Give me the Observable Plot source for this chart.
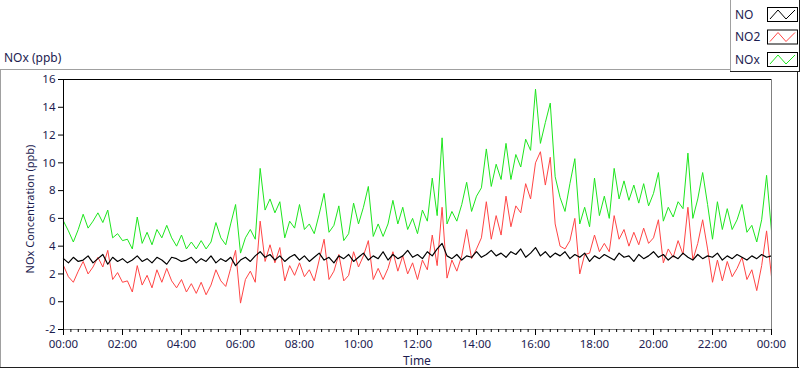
<!DOCTYPE html>
<html><head><meta charset="utf-8">
<script src="https://cdn.jsdelivr.net/npm/d3@7"></script>
<script src="https://cdn.jsdelivr.net/npm/@observablehq/plot@0.6"></script>
<style>html,body{margin:0;padding:0;background:#fff;}</style>
</head><body><div id="chart"></div>
<script>
// ---- data (10-minute readings, 00:00 -> 24:00) ----
const seriesNames = ["NO", "NO2", "NOx"];
const seriesColors = ["#000000", "#ff4545", "#1ee61e"];
const stepMinutes = 10;
const yTicks = [-2, 0, 2, 4, 6, 8, 10, 12, 14, 16];
const xLabelHours = [0, 2, 4, 6, 8, 10, 12, 14, 16, 18, 20, 22, 24];

const NO = [
  3.1, 2.8, 3.2, 2.9, 3.0, 3.3, 2.8, 3.1, 3.4, 2.7,
  3.2, 2.9, 3.1, 2.8, 3.0, 3.3, 2.9, 3.1, 2.8, 3.2,
  3.0, 2.7, 3.2, 3.1, 2.9, 3.0, 3.2, 2.8, 3.1, 2.9,
  3.3, 2.8, 3.1, 2.9, 3.2, 2.6, 3.0, 3.2, 2.9, 3.3,
  3.6, 3.2, 3.4, 3.0, 3.3, 2.9, 3.2, 3.4, 3.0, 3.3,
  2.9, 3.2, 3.5, 3.0, 3.2, 2.8, 3.3, 3.1, 3.4, 2.9,
  3.2, 3.5, 3.0, 3.3, 3.1, 3.6, 3.0, 3.4, 3.1, 3.3,
  3.7, 3.2, 3.4, 3.1, 3.6, 3.3, 3.8, 4.2, 3.3, 3.1,
  3.4, 3.0, 3.3, 3.2, 3.6, 3.2, 3.4, 3.7, 3.3, 3.5,
  3.2, 3.6, 3.4, 3.8, 3.2, 3.5, 3.9, 3.3, 3.6, 3.2,
  3.5, 3.3, 3.6, 3.1, 3.4, 3.2, 3.5, 2.9, 3.3, 3.1,
  3.4, 3.2, 3.0, 3.5, 3.2, 3.3, 2.9, 3.4, 3.1, 3.3,
  3.6, 3.2, 3.4, 3.0, 3.3, 3.1, 3.5, 3.2, 3.0, 3.4,
  3.1, 3.3, 3.2, 3.5, 3.0, 3.3, 3.1, 3.4, 3.2, 3.0,
  3.3, 3.1, 3.4, 3.2, 3.3
];
const NO2 = [
  2.6, 1.8, 1.4, 2.2, 2.9, 2.0, 2.5, 3.2, 2.5, 3.7,
  1.6, 2.1, 1.4, 1.5, 0.7, 2.6, 1.2, 1.9, 1.0, 2.3,
  1.4, 2.4, 1.5, 1.0, 1.6, 0.7, 1.3, 0.6, 1.4, 0.5,
  1.2, 2.3, 1.5, 1.1, 2.4, 3.7, -0.1, 1.6, 2.2, 1.4,
  5.8, 2.9, 4.1, 2.8, 3.9, 1.5, 2.6, 1.9, 2.8, 1.8,
  2.3, 1.5, 3.0, 4.5, 1.6, 2.2, 3.4, 1.5, 1.9, 3.6,
  2.5, 3.3, 4.4, 1.6, 2.4, 1.6, 2.4, 3.6, 2.2, 3.3,
  2.0, 2.8, 1.6, 3.0, 2.3, 4.8, 2.6, 6.8, 1.7, 3.0,
  2.2, 3.3, 5.2, 3.1, 3.8, 4.6, 7.2, 4.5, 6.2, 4.8,
  7.6, 5.4, 6.9, 6.4, 8.5, 7.4, 10.0, 10.8, 8.4, 10.4,
  5.6, 4.0, 3.8, 4.4, 6.0, 2.0, 3.4, 3.5, 4.8, 3.6,
  4.2, 3.6, 6.2, 4.5, 5.2, 4.0, 5.0, 4.1, 5.3, 4.2,
  4.6, 5.9, 2.8, 3.8, 3.2, 4.4, 3.4, 6.8, 3.0, 4.2,
  5.9, 3.8, 1.4, 3.0, 1.5, 2.9, 1.8, 2.4, 3.2, 1.6,
  2.3, 0.8, 2.6, 5.1, 1.8
];
const NOx = [
  5.8, 5.1, 4.3, 5.2, 6.3, 5.3, 5.8, 6.4, 5.7, 6.6,
  4.6, 4.9, 4.4, 4.5, 3.8, 6.1, 4.2, 5.0, 4.1, 5.2,
  4.6, 5.5, 4.6, 4.0, 4.8, 3.8, 4.3, 3.8, 4.4, 3.8,
  4.3, 5.7, 4.6, 4.1, 5.6, 7.0, 3.5, 4.6, 5.2, 4.5,
  9.6, 6.6, 7.4, 6.4, 7.2, 4.6, 5.8, 5.3, 7.0, 5.2,
  5.6, 4.9, 6.3, 7.8, 5.0, 5.5, 6.9, 4.4, 4.9, 7.1,
  5.6, 6.8, 8.3, 4.7, 5.6, 4.7, 5.6, 7.3, 5.6, 6.8,
  5.2, 6.0, 4.9, 6.6, 5.8, 8.9, 6.2, 11.8, 5.6, 6.5,
  5.8, 7.0, 8.6, 6.5, 7.6, 8.2, 11.0, 8.3, 9.9, 8.8,
  11.4, 8.8, 10.6, 9.7, 11.7, 10.9, 15.3, 11.4, 12.9, 14.3,
  9.0, 7.5, 6.5, 8.5, 10.3, 5.6, 6.8, 5.4, 8.9, 6.2,
  7.6, 6.0, 9.6, 7.4, 8.7, 7.3, 8.4, 7.1, 8.5, 6.9,
  7.8, 9.3, 5.8, 6.8, 6.1, 7.2, 6.7, 10.7, 6.0, 7.4,
  9.3, 7.0, 4.5, 7.2, 5.2, 6.7, 5.2, 5.9, 7.0, 5.0,
  5.5, 4.3, 5.9, 9.1, 5.1
];

// ---- build ----
const font = "'Noto Sans', 'Open Sans', sans-serif";
const textColor = "#1c1c50";
const t0 = Date.UTC(2000, 0, 1);
const hour = 3600000;
const toRows = arr => arr.map((v, i) => ({t: new Date(t0 + i * stepMinutes * 60000), v}));
const start = new Date(t0), end = new Date(t0 + 24 * hour);
const majorTicks = xLabelHours.map(h => new Date(t0 + h * hour));
const minorTicks = d3.range(0, 24 * 4 + 1).filter(q => q % 8 !== 0).map(q => new Date(t0 + q * hour / 4));
const fmt = d3.utcFormat("%H:%M");

const chart = Plot.plot({
  width: 800, height: 369,
  marginTop: 79, marginRight: 29, marginBottom: 40, marginLeft: 63,
  style: {fontFamily: font, fontSize: "11.5px", color: textColor, background: "#fff", overflow: "visible"},
  x: {type: "utc", domain: [start, end]},
  y: {domain: [-2, 16]},
  marks: [
    Plot.line(toRows(NOx), {x: "t", y: "v", stroke: seriesColors[2], strokeWidth: 1}),
    Plot.line(toRows(NO2), {x: "t", y: "v", stroke: seriesColors[1], strokeWidth: 1}),
    Plot.line(toRows(NO), {x: "t", y: "v", stroke: seriesColors[0], strokeWidth: 1.2}),
    Plot.ruleY([16], {stroke: "#000"}),
    Plot.ruleY([-2], {stroke: "#808080"}),
    Plot.ruleX([start], {stroke: "#000"}),
    Plot.ruleX([end], {stroke: "#808080"}),
    Plot.axisY({ticks: yTicks, tickSize: 5, tickPadding: 3, label: null, stroke: "#000", fill: textColor, tickFormat: d => String(d)}),
    Plot.axisX({ticks: majorTicks, tickSize: 6, tickPadding: 4, label: null, stroke: "#000", fill: textColor, tickFormat: fmt}),
    Plot.axisX({ticks: minorTicks, tickSize: 3, label: null, stroke: "#000", tickFormat: () => ""})
  ]
});

const svg = d3.select(chart);
// outer panel border
const g = svg.append("g").attr("shape-rendering", "crispEdges");
g.append("line").attr("x1", 0).attr("x2", 731).attr("y1", 69.5).attr("y2", 69.5).attr("stroke", "#a0a0a0");
g.append("line").attr("x1", 0.5).attr("x2", 0.5).attr("y1", 69).attr("y2", 368).attr("stroke", "#a0a0a0");
g.append("line").attr("x1", 0).attr("x2", 799).attr("y1", 367.5).attr("y2", 367.5).attr("stroke", "#202020");
g.append("line").attr("x1", 797.5).attr("x2", 797.5).attr("y1", 72).attr("y2", 368).attr("stroke", "#202020");

// panel texts
svg.append("text").attr("x", 4).attr("y", 62).attr("text-anchor", "start").attr("font-family", font).attr("font-size", 12)
  .attr("fill", textColor).text("NOx (ppb)");
svg.append("text").attr("x", 417).attr("y", 365).attr("text-anchor", "middle").attr("font-family", font)
  .attr("font-size", 12).attr("fill", textColor).text("Time");
svg.append("text").attr("transform", "translate(34,209) rotate(-90)").attr("text-anchor", "middle")
  .attr("font-family", font).attr("font-size", 11).attr("fill", textColor).text("NOx Concentration (ppb)");

// legend
const lg = svg.append("g");
lg.append("rect").attr("x", 730.5).attr("y", -1).attr("width", 68).attr("height", 72.5).attr("fill", "#fff").attr("stroke", "none");
lg.append("line").attr("x1", 730.5).attr("x2", 730.5).attr("y1", 0).attr("y2", 72).attr("stroke", "#a0a0a0");
lg.append("line").attr("x1", 730).attr("x2", 800).attr("y1", 71.5).attr("y2", 71.5).attr("stroke", "#202020");
lg.append("line").attr("x1", 799.5).attr("x2", 799.5).attr("y1", 0).attr("y2", 72).attr("stroke", "#202020");
seriesNames.forEach((name, i) => {
  const cy = 14 + i * 22.5;
  lg.append("text").attr("x", 735).attr("y", cy + 4.5).attr("text-anchor", "start").attr("font-family", font).attr("font-size", 12)
    .attr("fill", textColor).text(name);
  const x0 = 767, y0 = cy - 7, w = 30, h = 14;
  lg.append("rect").attr("x", x0 + 0.5).attr("y", y0 + 0.5).attr("width", w).attr("height", h)
    .attr("fill", "#fff").attr("stroke", "#000");
  lg.append("polyline").attr("points", [[x0 + 3, y0 + h - 2], [x0 + 11, y0 + 3], [x0 + 19, y0 + h - 2], [x0 + 28, y0 + 3]].map(p => p.join(",")).join(" "))
    .attr("fill", "none").attr("stroke", seriesColors[i]).attr("stroke-width", 1);
});

document.getElementById("chart").appendChild(chart);
</script>
</body></html>
